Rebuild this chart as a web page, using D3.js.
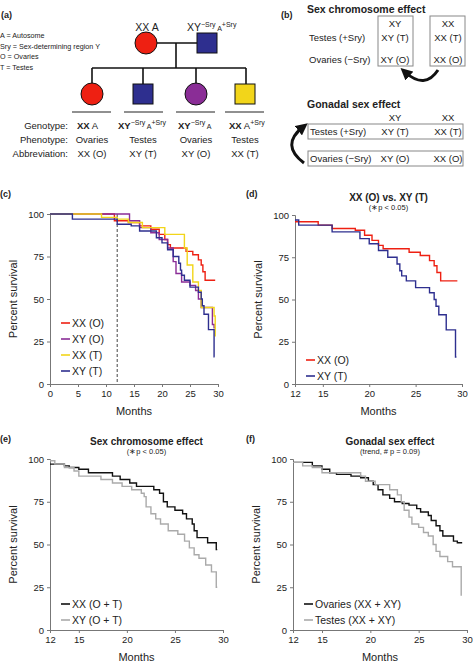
<!DOCTYPE html>
<html><head><meta charset="utf-8">
<script src="https://cdn.jsdelivr.net/npm/d3@7"></script>
<style>
body{margin:0;background:#fff}
text{font-family:"Liberation Sans",Arial,sans-serif;fill:#222}
.axis text{font-size:9.5px}
.axis path,.axis line{stroke:#777}
</style></head><body>
<div id="target"></div>
<script>
// Kaplan-Meier steps: [month, percent]
let xxO = [[0,100],[11,100],[11.5,96],[14,95],[16,93],[18,91],[19.5,88],[20.5,85],[21,82],[21.5,80],[24.3,78],[25.5,76],[26.5,73],[27,70],[27.3,66],[27.7,61],[29.5,61]];
let xyO = [[0,100],[14,100],[14.2,96],[16,92],[18,89],[19.5,85],[21,80],[22,72],[22.5,65],[23.5,60],[25,58],[26,55],[26.5,50],[27,45],[28.7,45],[29,35],[29.3,33],[29.5,33]];
let xxT = [[0,100],[9,100],[9.2,98],[12,97],[14,95],[16.5,92],[20.5,88],[23.7,88],[24,80],[24.5,70],[25.5,60],[26.5,55],[27,45],[29,45],[29.3,40],[29.5,28]];
let xyT = [[0,100],[4,97],[11.5,97],[12,94],[14.5,93],[16,90],[19,86],[20,83],[21,79],[22,75],[23,71],[23.3,67],[23.5,64],[24,61],[25,57],[26.5,54],[27,50],[27.2,46],[27.5,41],[28.3,32],[29.3,16],[29.4,16]];
let xxD = [[12,96],[14.5,94],[16,92],[18.5,91],[19.5,88],[20.3,85],[21,82],[21.5,80],[24.3,78],[25.5,76],[26.5,73],[27,70],[27.3,66],[27.7,61],[29.5,61]];
let xyD = [[12,97],[12.4,94],[16,90],[19,86],[20,83],[21,79],[22,75],[23,71],[23.3,67],[23.5,64],[24,61],[25,57],[26.5,54],[27,50],[27.2,46],[27.5,41],[28.3,32],[29.3,16],[29.4,16]];
let xxOT = [[12,97],[13.5,96],[14,95],[15,94],[16,92],[18.5,90],[19.3,88],[20.3,86],[21,84],[22.8,82],[23.4,80],[23.8,75],[24.2,72],[25,70],[25.8,68],[26.2,65],[26.8,62],[27,58],[27.3,54],[28.4,51],[29.3,47],[29.4,47]];
let xyOT = [[12,99],[12.5,97],[13.5,95],[14.5,93],[15,90],[17.3,88],[18.5,86],[19.5,84],[20.5,82],[21.5,80],[21.8,78],[22,72],[22.5,68],[23,65],[23.5,62],[24.3,58],[25.3,56],[26,52],[26.5,48],[27,44],[27.5,42],[28.2,38],[28.8,34],[29.3,25],[29.4,25]];
let ovar = [[12,98],[14,96],[15,94],[15.8,92],[16.5,91],[18,90],[19,89],[19.8,87],[20.3,85],[20.8,82],[21.3,79],[22,77],[22.5,75],[23.3,74],[24,73],[24.8,71],[25.2,69],[26,67],[26.3,64],[26.8,61],[27.2,58],[27.5,55],[28.6,52],[29,51],[29.5,51]];
let test = [[12,98],[13,96],[14,95],[15,92],[18.5,92],[19,90],[19.5,87],[20.5,85],[21.6,85],[22,82],[22.8,79],[23.2,75],[23.5,70],[24,66],[24.3,62],[25,60],[25.5,57],[26,55],[26.5,50],[26.8,46],[27.2,43],[28,40],[28.5,37],[29.3,37],[29.4,20]];
let yTicks = [0,25,50,75,100];
let xTicksC = [0,5,10,15,20,25,30];
let xTicksD = [12,15,20,25,30];

let red = "#ee2012", purple = "#8a2d96", yellow = "#f2d51a", blue = "#2e2f8f", grey = "#aaa";

let svg = d3.select("#target").append("svg").attr("width", 474).attr("height", 671);

function txt(x, y, s, opts) {
  opts = opts || {};
  let t = svg.append("text").attr("x", x).attr("y", y)
    .style("font-size", (opts.size || 9.5) + "px")
    .attr("text-anchor", opts.anchor || "start");
  if (opts.bold) t.style("font-weight", "bold");
  if (typeof s === "string") t.text(s);
  else s.forEach(p => {
    let ts = t.append("tspan").text(p.t);
    if (p.b) ts.style("font-weight", "bold");
    if (p.sup) ts.attr("dy", p.sup).style("font-size", "7px");
  });
  return t;
}

function panel(o) {
  let x = d3.scaleLinear().domain(o.xd).range([o.x0, o.x1]);
  let y = d3.scaleLinear().domain([0, 100]).range([o.y1, o.y0]);
  svg.append("g").attr("class", "axis").attr("transform", "translate(0," + o.y1 + ")")
    .call(d3.axisBottom(x).tickValues(o.xt).tickSize(3).tickFormat(d3.format("d")));
  svg.append("g").attr("class", "axis").attr("transform", "translate(" + o.x0 + ",0)")
    .call(d3.axisLeft(y).tickValues(yTicks).tickSize(3));
  svg.append("text").attr("transform", "translate(" + (o.x0 - 33) + "," + ((o.y0 + o.y1) / 2) + ") rotate(-90)")
    .attr("text-anchor", "middle").style("font-size", "11px").text("Percent survival");
  txt((o.x0 + o.x1) / 2, o.y1 + 31, "Months", {anchor: "middle", size: 11});
  txt(o.lx, o.ly, o.tag, {bold: true, size: 9});
  if (o.title) {
    txt((o.x0 + o.x1) / 2 + 10, o.y0 - 14, o.title, {bold: true, size: 10, anchor: "middle"});
    txt((o.x0 + o.x1) / 2 + 10, o.y0 - 5, o.sub, {size: 7.5, anchor: "middle"});
  }
  if (o.dash) svg.append("line").attr("x1", x(o.dash)).attr("x2", x(o.dash))
    .attr("y1", y(100)).attr("y2", y(0)).attr("stroke", "#444").attr("stroke-dasharray", "3,2");
  let line = d3.line().x(d => x(d[0])).y(d => y(d[1])).curve(d3.curveStepAfter);
  o.series.forEach((s, i) => {
    svg.append("path").attr("d", line(s.data)).attr("fill", "none")
      .attr("stroke", s.c).attr("stroke-width", 1.4);
    let ly = o.legY + i * o.legDy;
    svg.append("line").attr("x1", o.x0 + 11).attr("x2", o.x0 + 20).attr("y1", ly).attr("y2", ly)
      .attr("stroke", s.c).attr("stroke-width", 1.6);
    txt(o.x0 + 22, ly + 4, s.name, {size: 10.5});
  });
}

panel({x0: 50, x1: 218, y0: 214, y1: 384, xd: [0, 30], xt: xTicksC, tag: "(c)", lx: 0, ly: 197, dash: 12,
  legY: 323, legDy: 16,
  series: [{name: "XX (O)", c: red, data: xxO}, {name: "XY (O)", c: purple, data: xyO},
           {name: "XX (T)", c: yellow, data: xxT}, {name: "XY (T)", c: blue, data: xyT}]});
panel({x0: 295, x1: 462, y0: 215, y1: 384, xd: [12, 30], xt: xTicksD, tag: "(d)", lx: 246, ly: 197,
  title: "XX (O) vs. XY (T)", sub: "(\u2217p < 0.05)", legY: 360, legDy: 16,
  series: [{name: "XX (O)", c: red, data: xxD}, {name: "XY (T)", c: blue, data: xyD}]});
panel({x0: 50, x1: 223, y0: 459, y1: 630, xd: [12, 30], xt: xTicksD, tag: "(e)", lx: 0, ly: 442,
  title: "Sex chromosome effect", sub: "(\u2217p < 0.05)", legY: 604, legDy: 16,
  series: [{name: "XX (O + T)", c: "#111", data: xxOT}, {name: "XY (O + T)", c: grey, data: xyOT}]});
panel({x0: 293, x1: 467, y0: 459, y1: 630, xd: [12, 30], xt: xTicksD, tag: "(f)", lx: 246, ly: 442,
  title: "Gonadal sex effect", sub: "(trend, # p = 0.09)", legY: 604, legDy: 16,
  series: [{name: "Ovaries (XX + XY)", c: "#111", data: ovar}, {name: "Testes (XX + XY)", c: grey, data: test}]});

// (a) pedigree
txt(1, 18, "(a)", {bold: true, size: 9});
["A = Autosome", "Sry = Sex-determining region Y", "O = Ovaries", "T = Testes"]
  .forEach((s, i) => txt(0, 38 + i * 10.5, s, {size: 7.2}));
let ln = (a, b, c, d) => svg.append("line").attr("x1", a).attr("y1", b).attr("x2", c).attr("y2", d)
  .attr("stroke", "#111").attr("stroke-width", 1.6);
ln(157, 43, 197, 43); ln(176, 43, 176, 68); ln(92, 68, 246, 68);
[92, 143, 196, 246].forEach(cx => ln(cx, 68, cx, 84));
let circ = (cx, cy, c) => svg.append("circle").attr("cx", cx).attr("cy", cy).attr("r", 11)
  .attr("fill", c).attr("stroke", "#111").attr("stroke-width", 1);
let sq = (cx, cy, c) => svg.append("rect").attr("x", cx - 10).attr("y", cy - 10).attr("width", 20).attr("height", 20)
  .attr("fill", c).attr("stroke", "#111").attr("stroke-width", 1);
circ(146, 43, red); sq(207, 43, blue);
circ(92, 94, red); sq(143, 94, blue); circ(196, 94, purple); sq(245, 94, yellow);
txt(147, 31, "XX  A", {anchor: "middle", size: 10.5});
txt(187, 31, [{t: "XY"}, {t: "\u2212Sry", sup: -4}, {t: "  A", sup: 4}, {t: "+Sry", sup: -4}], {size: 10.5});
[[72, 111], [124, 163], [176, 215], [225, 264]].forEach(p =>
  svg.append("line").attr("x1", p[0]).attr("x2", p[1]).attr("y1", 112).attr("y2", 112).attr("stroke", "#222").attr("stroke-width", 1.2));
txt(68, 129, "Genotype:", {anchor: "end"}); txt(68, 143, "Phenotype:", {anchor: "end"}); txt(68, 157, "Abbreviation:", {anchor: "end"});
txt(77, 129, [{t: "XX", b: true}, {t: "  A"}]);
txt(118, 129, [{t: "XY", b: true}, {t: "\u2212Sry", sup: -4}, {t: " A", sup: 4}, {t: "+Sry", sup: -4}]);
txt(178, 129, [{t: "XY", b: true}, {t: "\u2212Sry", sup: -4}, {t: " A", sup: 4}]);
txt(229, 129, [{t: "XX", b: true}, {t: "  A"}, {t: "+Sry", sup: -4}]);
[["Ovaries", "XX (O)", 92], ["Testes", "XY (T)", 143], ["Ovaries", "XY (O)", 196], ["Testes", "XX (T)", 245]].forEach(d => {
  txt(d[2], 143, d[0], {anchor: "middle"}); txt(d[2], 157, d[1], {anchor: "middle"});
});

// (b) comparison boxes
txt(281, 18, "(b)", {bold: true, size: 9});
txt(307, 13, "Sex chromosome effect", {bold: true, size: 10.5});
let box = (x, y, w, h) => svg.append("rect").attr("x", x).attr("y", y).attr("width", w).attr("height", h)
  .attr("fill", "none").attr("stroke", "#888").attr("stroke-width", 1);
box(378, 16, 35, 50); box(430, 16, 35, 50);
txt(395, 27, "XY", {anchor: "middle"}); txt(448, 27, "XX", {anchor: "middle"});
txt(309, 41, "Testes (+Sry)"); txt(309, 63, "Ovaries (\u2212Sry)");
txt(395, 41, "XY (T)", {anchor: "middle"}); txt(448, 41, "XX (T)", {anchor: "middle"});
txt(395, 63, "XY (O)", {anchor: "middle"}); txt(448, 63, "XX (O)", {anchor: "middle"});
txt(307, 108, "Gonadal sex effect", {bold: true, size: 10.5});
txt(395, 121, "XY", {anchor: "middle"}); txt(448, 121, "XX", {anchor: "middle"});
box(308, 124, 155, 15); box(308, 151, 155, 15);
txt(310, 135, "Testes (+Sry)"); txt(310, 162, "Ovaries (\u2212Sry)");
txt(395, 135, "XY (T)", {anchor: "middle"}); txt(448, 135, "XX (T)", {anchor: "middle"});
txt(395, 162, "XY (O)", {anchor: "middle"}); txt(448, 162, "XX (O)", {anchor: "middle"});
svg.append("defs").append("marker").attr("id", "ah").attr("viewBox", "0 0 10 10").attr("refX", 5).attr("refY", 5)
  .attr("markerWidth", 4).attr("markerHeight", 4).attr("orient", "auto")
  .append("path").attr("d", "M0,0L10,5L0,10z").attr("fill", "#111");
svg.append("path").attr("d", "M438,70 Q425,90 405,72").attr("fill", "none").attr("stroke", "#111")
  .attr("stroke-width", 3).attr("marker-end", "url(#ah)");
svg.append("path").attr("d", "M304,163 Q280,145 303,127").attr("fill", "none").attr("stroke", "#111")
  .attr("stroke-width", 3).attr("marker-end", "url(#ah)");
</script></body></html>
